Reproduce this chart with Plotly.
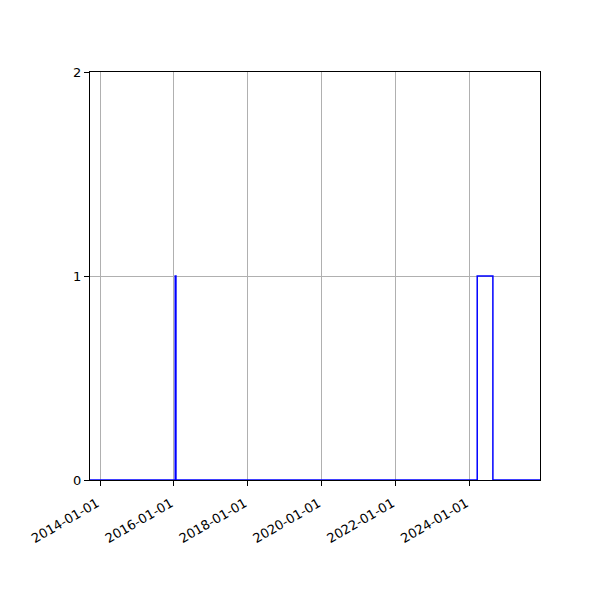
import plotly.graph_objects as go

# step change points (value holds until next date)
dates = ["2013-09-24", "2016-01-15", "2016-01-22", "2024-03-20", "2024-08-22", "2025-12-01"]
values = [0, 1, 0, 1, 0, 0]

tick_vals = ["2014-01-01", "2016-01-01", "2018-01-01", "2020-01-01", "2022-01-01", "2024-01-01"]
tick_text = tick_vals
y_ticks = [0, 1, 2]

fig = go.Figure()
fig.add_trace(go.Scatter(
    x=dates, y=values, mode="lines", line=dict(color="blue", width=1.5, shape="hv"),
    showlegend=False,
))

axis_common = dict(
    showline=True, linecolor="black", linewidth=1, mirror=True,
    ticks="outside", ticklen=5, tickwidth=1, tickcolor="black",
    showgrid=True, gridcolor="#b0b0b0", gridwidth=0.8, zeroline=False,
    tickfont=dict(family="DejaVu Sans", size=13, color="black"),
)

fig.update_layout(
    width=600, height=600,
    margin=dict(l=82, r=68, t=64, b=128),
    paper_bgcolor="white", plot_bgcolor="white",
    xaxis=dict(range=[dates[0], dates[-1]], tickvals=tick_vals, ticktext=tick_text,
               tickangle=-30, type="date", ticklabelstandoff=5, ticklabelshift=-3,
               **axis_common),
    yaxis=dict(range=[0, 2], tickvals=y_ticks, ticktext=[str(v) for v in y_ticks], **axis_common),
)

fig.write_html("out.html")
